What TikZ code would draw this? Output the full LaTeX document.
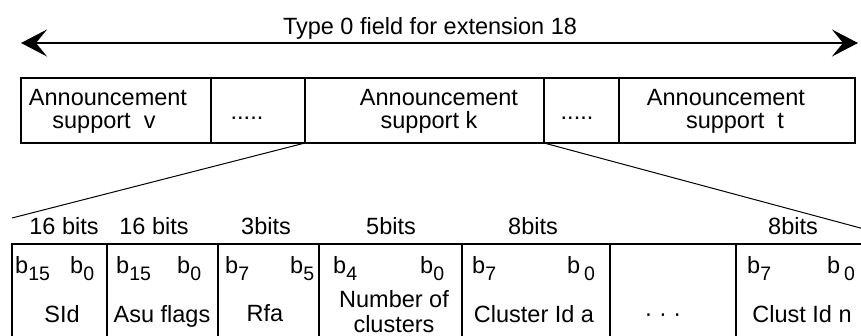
\documentclass[tikz,border=0pt]{standalone}
\usepackage{fontspec}
\setmainfont{Liberation Sans}
\usetikzlibrary{arrows.meta}
\newcommand{\bsub}[1]{\raisebox{-7pt}{\fontsize{19.5}{20}\selectfont #1}}

\begin{document}
\begin{tikzpicture}[x=1pt, y=-1pt, font=\fontsize{23.5}{26}\selectfont,
  field/.style={draw, line width=2pt, inner sep=0, outer sep=0, anchor=north west, minimum height=65pt},
  cell/.style={draw, line width=2pt, inner sep=0, outer sep=0, anchor=north west, minimum height=140pt},
  lbl/.style={anchor=base, inner sep=0},
  bitl/.style={anchor=base west, inner sep=0}]
\useasboundingbox (0,0) rectangle (861,336);
\clip (0,0) rectangle (861,336);
% overall length
\coordinate (lend) at (21,43);
\coordinate (rend) at (858,43);
\draw[line width=2pt, {Stealth[length=26pt, width=27pt, inset=11pt]}-{Stealth[length=26pt, width=27pt, inset=11pt]}] (lend) -- (rend);
\node[lbl] (title) at (430,35) {Type 0 field for extension 18};
% announcement supports
\node[field, minimum width=190pt] (sv) at (21,78) {};
\node[field, minimum width=94pt] (g1) at (211,78) {};
\node[field, minimum width=239pt] (sk) at (305,78) {};
\node[field, minimum width=75pt] (g2) at (544,78) {};
\node[field, minimum width=236pt] (st) at (619,78) {};
\node[lbl] (sv1) at (108,106) {Announcement};
\node[lbl] (sv2) at (104,129) {support~~v};
\node[lbl] (g1t) at (247,120) {.....};
\node[lbl] (sk1) at (439,106) {Announcement};
\node[lbl] (sk2) at (429,129) {support k};
\node[lbl] (g2t) at (577,120) {.....};
\node[lbl] (st1) at (726,106) {Announcement};
\node[lbl] (st2) at (735,129) {support~~t};
% fields of support k
\node[cell, minimum width=95pt] (sid) at (12,244) {};
\node[cell, minimum width=111pt] (asu) at (107,244) {};
\node[cell, minimum width=101pt] (rfa) at (218,244) {};
\node[cell, minimum width=143pt] (num) at (319,244) {};
\node[cell, minimum width=148pt] (cla) at (462,244) {};
\node[cell, minimum width=126pt] (gap) at (610,244) {};
\node[cell, minimum width=184pt] (cln) at (736,244) {};
\coordinate (fan) at (12,218);
\draw[line width=1pt] (sk.south west) -- (fan);
\draw[line width=1pt] (sk.south east) -- (cln.north east);
% sizes
\node[lbl] (w1) at (64,235) {16 bits};
\node[lbl] (w2) at (154,235) {16 bits};
\node[lbl] (w3) at (266,235) {3bits};
\node[lbl] (w4) at (391,235) {5bits};
\node[lbl] (w5) at (533,235) {8bits};
\node[lbl] (w7) at (793,235) {8bits};
% bit numbers
\node[bitl] (sidh) at (15,274) {b\bsub{15}};
\node[bitl] (sidl) at (70,274) {b\bsub{0}};
\node[bitl] (asuh) at (116,274) {b\bsub{15}};
\node[bitl] (asul) at (177,274) {b\bsub{0}};
\node[bitl] (rfah) at (225,274) {b\bsub{7}};
\node[bitl] (rfal) at (290,274) {b\bsub{5}};
\node[bitl] (numh) at (333,274) {b\bsub{4}};
\node[bitl] (numl) at (420,274) {b\bsub{0}};
\node[bitl] (clah) at (472,274) {b\bsub{7}};
\node[bitl] (clal) at (567,274) {b\,\bsub{0}};
\node[bitl] (clnh) at (747,274) {b\bsub{7}};
\node[bitl] (clnl) at (827,274) {b\,\bsub{0}};
% names
\node[lbl] (sidt) at (62,322) {SId};
\node[lbl] (asut) at (162,322) {Asu flags};
\node[lbl] (rfat) at (265,321) {Rfa};
\node[lbl] (num1) at (394,308) {Number of};
\node[lbl] (num2) at (394,332) {clusters};
\node[lbl] (clat) at (534,322) {Cluster Id a};
\node[lbl] (gapt) at (663,321) {· · ·};
\node[lbl] (clnt) at (802,322) {Clust Id n};
\end{tikzpicture}
\end{document}
